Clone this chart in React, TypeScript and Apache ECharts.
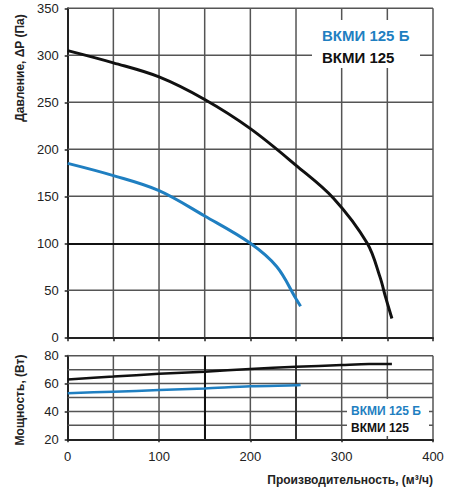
import React, { useEffect, useRef } from "react";
import * as echarts from "echarts";

// Pressure curves (flow m³/h -> pressure Pa)
const pressureFlowBlack = [0, 50, 100, 150, 200, 250, 291, 328, 342, 348, 355];
const pressureBlack = [305, 292, 277, 253, 222, 183, 148, 100, 64, 43, 20];
const pressureFlowBlue = [0, 50, 100, 150, 200, 229, 250, 255];
const pressureBlue = [185, 172, 156, 129, 100, 75, 41, 33];

// Power curves (flow m³/h -> power W)
const powerFlowBlack = [0, 50, 100, 150, 200, 250, 300, 330, 355];
const powerBlack = [63, 65, 67, 68.5, 70.5, 72, 73.3, 74, 74];
const powerFlowBlue = [0, 50, 100, 150, 200, 250, 255];
const powerBlue = [53, 54.2, 55.3, 56.5, 58, 58.8, 59];

// Grid-line positions and axis ranges
const flowGrid = [50, 100, 150, 200, 250, 300, 350, 400];
const pressureGrid = [50, 150, 200, 250, 300, 350];
const powerGrid = [30, 40, 50, 60, 70, 80];
const flowRange = [0, 400];
const pressureRange = [0, 350];
const powerRange = [20, 80];

const seriesNames = ["ВКМИ 125 Б", "ВКМИ 125"];
const pressureTitle = "Давление, ΔP (Па)";
const powerTitle = "Мощность, (Вт)";
const flowTitle = "Производительность, (м³/ч)";

const BLUE = "#1f7fc1";
const BLACK = "#111111";
const GRIDC = "#555555";
const FONT = "'Liberation Sans', Arial, sans-serif";

const zip = (xs: number[], ys: number[]) => xs.map((x, i) => [x, ys[i]]);

export default function App() {
  const ref = useRef<HTMLDivElement>(null);
  useEffect(() => {
    document.body.style.margin = "0";
    if (!ref.current) return;
    const chart = echarts.init(ref.current, undefined, { renderer: "svg" });
    const axisLine = () => ({ show: true, lineStyle: { color: "#222", width: 2 } });
    const tick = (len: number) => ({ show: true, inside: false, length: len, lineStyle: { color: "#222", width: 1.5 } });
    const label = (margin: number) => ({ show: true, color: "#222", fontSize: 13, fontFamily: FONT, margin });
    const noSplit = { show: false };
    const gridSegments = (xs: number[], ys: number[], yr: number[]) => [
      ...xs.map((v) => [v, yr[0], v, yr[1]]),
      ...ys.map((v) => [flowRange[0], v, flowRange[1], v]),
    ];
    const gridSeries = (gi: number, data: number[][]) => ({
      type: "custom", xAxisIndex: gi, yAxisIndex: gi, data, z: 1, silent: true, clip: false,
      encode: { x: [0, 2], y: [1, 3] },
      renderItem: (_params: any, api: any) => {
        const p1 = api.coord([api.value(0), api.value(1)]);
        const p2 = api.coord([api.value(2), api.value(3)]);
        return {
          type: "line",
          shape: { x1: p1[0], y1: p1[1], x2: p2[0], y2: p2[1] },
          style: { stroke: GRIDC, lineWidth: 1.5, fill: "none" },
        };
      },
    });
    chart.setOption({
      animation: false,
      backgroundColor: "#fff",
      grid: [
        { left: 67.7, top: 8.3, width: 365.3, height: 329, show: false },
        { left: 67.7, top: 355.7, width: 365.3, height: 83.6, show: false },
      ],
      xAxis: [
        {
          gridIndex: 0, type: "value", min: flowRange[0], max: flowRange[1], interval: 50,
          axisLabel: { show: false }, axisLine: axisLine(), axisTick: tick(4),
          splitLine: noSplit,
        },
        {
          gridIndex: 1, type: "value", min: flowRange[0], max: flowRange[1], interval: 100,
          axisLabel: label(11), axisLine: axisLine(), axisTick: tick(3),
          splitLine: noSplit,
        },
      ],
      yAxis: [
        {
          gridIndex: 0, type: "value", min: pressureRange[0], max: pressureRange[1], interval: 50,
          axisLabel: label(9), axisLine: axisLine(), axisTick: tick(3),
          splitLine: noSplit,
        },
        {
          gridIndex: 1, type: "value", min: powerRange[0], max: powerRange[1], interval: 20,
          axisLabel: label(9), axisLine: axisLine(), axisTick: tick(3),
          splitLine: noSplit,
        },
      ],
      series: [
        gridSeries(0, gridSegments(flowGrid, pressureGrid, pressureRange)),
        gridSeries(1, gridSegments(flowGrid, powerGrid, powerRange)),
        {
          name: seriesNames[1], type: "line", xAxisIndex: 0, yAxisIndex: 0,
          data: zip(pressureFlowBlack, pressureBlack), smooth: 0.35, showSymbol: false,
          lineStyle: { color: BLACK, width: 3 }, z: 5,
          markLine: {
            silent: true, symbol: "none", label: { show: false }, z: 2,
            data: [{ yAxis: 100, lineStyle: { color: BLACK, width: 2, type: "solid" } }],
          },
        },
        {
          name: seriesNames[0], type: "line", xAxisIndex: 0, yAxisIndex: 0,
          data: zip(pressureFlowBlue, pressureBlue), smooth: 0.35, showSymbol: false,
          lineStyle: { color: BLUE, width: 3 }, z: 5,
        },
        {
          name: seriesNames[1], type: "line", xAxisIndex: 1, yAxisIndex: 1,
          data: zip(powerFlowBlack, powerBlack), smooth: 0.3, showSymbol: false,
          lineStyle: { color: BLACK, width: 2.5 }, z: 5,
          markLine: {
            silent: true, symbol: "none", label: { show: false }, z: 2,
            data: [
              { xAxis: 150, lineStyle: { color: BLACK, width: 2, type: "solid" } },
              { xAxis: 250, lineStyle: { color: "#333", width: 2, type: "solid" } },
            ],
          },
        },
        {
          name: seriesNames[0], type: "line", xAxisIndex: 1, yAxisIndex: 1,
          data: zip(powerFlowBlue, powerBlue), smooth: 0.3, showSymbol: false,
          lineStyle: { color: BLUE, width: 2.5 }, z: 5,
        },
      ],
      graphic: [
        { type: "rect", z: 100, shape: { x: 312, y: 20, width: 108, height: 48 }, style: { fill: "#fff" } },
        { type: "text", z: 101, x: 322, y: 35, style: { text: seriesNames[0], fill: BLUE, font: `bold 15px ${FONT}`, textVerticalAlign: "middle" } },
        { type: "text", z: 101, x: 322, y: 57, style: { text: seriesNames[1], fill: BLACK, font: `bold 15px ${FONT}`, textVerticalAlign: "middle" } },
        { type: "rect", z: 100, shape: { x: 347, y: 399, width: 82, height: 37 }, style: { fill: "#fff" } },
        { type: "text", z: 101, x: 351, y: 411, style: { text: seriesNames[0], fill: BLUE, font: `bold 12px ${FONT}`, textVerticalAlign: "middle" } },
        { type: "text", z: 101, x: 351, y: 427.5, style: { text: seriesNames[1], fill: BLACK, font: `bold 12px ${FONT}`, textVerticalAlign: "middle" } },
        { type: "text", z: 101, x: 20, y: 68, rotation: Math.PI / 2, style: { text: pressureTitle, fill: "#222", font: `bold 12px ${FONT}`, textAlign: "center", textVerticalAlign: "middle" } },
        { type: "text", z: 101, x: 20, y: 400, rotation: Math.PI / 2, style: { text: powerTitle, fill: "#222", font: `bold 12px ${FONT}`, textAlign: "center", textVerticalAlign: "middle" } },
        { type: "text", z: 101, x: 433, y: 480, style: { text: flowTitle, fill: "#222", font: `bold 12px ${FONT}`, textAlign: "right", textVerticalAlign: "middle" } },
      ],
    });
    return () => chart.dispose();
  }, []);
  return <div ref={ref} style={{ width: 450, height: 492 }} />;
}
